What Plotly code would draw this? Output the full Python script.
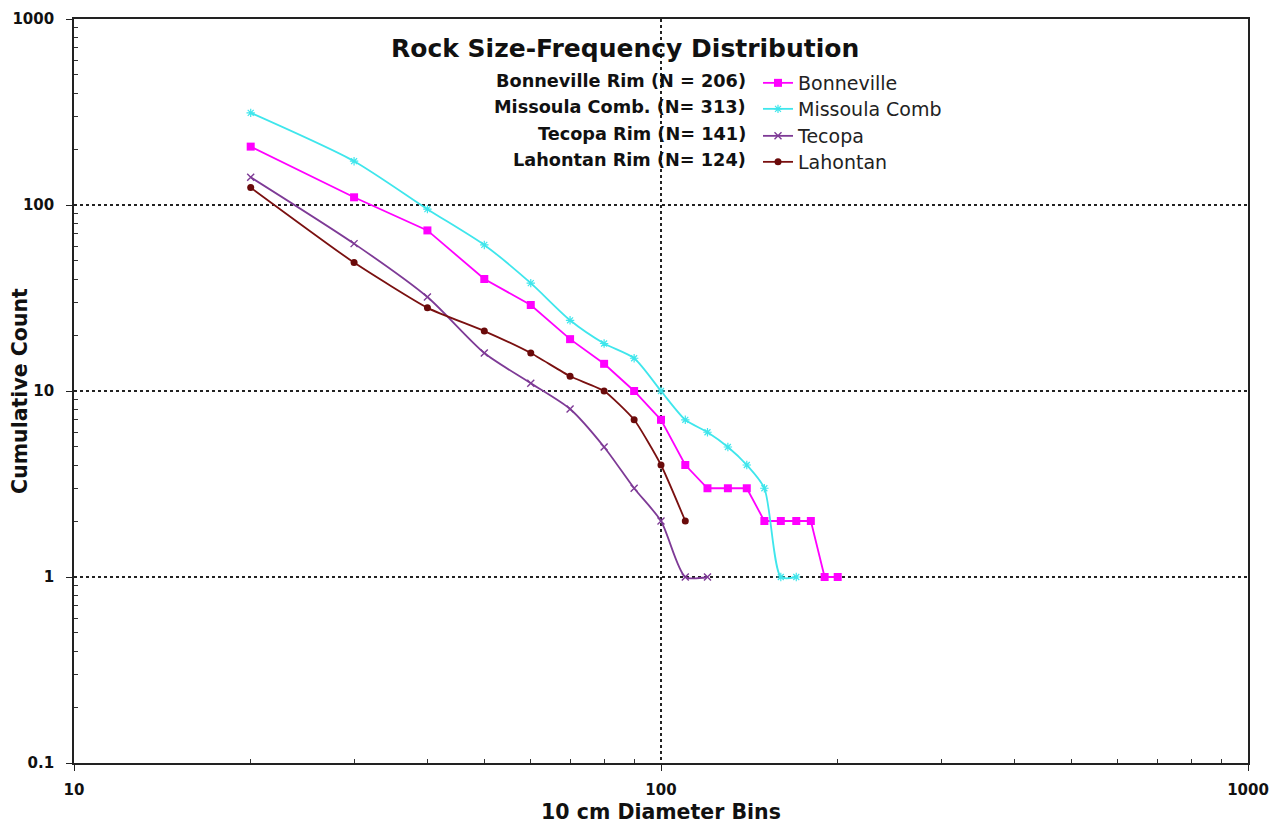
import plotly.graph_objects as go

bins = [20, 30, 40, 50, 60, 70, 80, 90, 100, 110, 120, 130, 140, 150, 160, 170, 180, 190, 200]
bonneville = [206, 110, 73, 40, 29, 19, 14, 10, 7, 4, 3, 3, 3, 2, 2, 2, 2, 1, 1]
missoula_x = [20, 30, 40, 50, 60, 70, 80, 90, 100, 110, 120, 130, 140, 150, 160, 170]
missoula = [313, 172, 95, 61, 38, 24, 18, 15, 10, 7, 6, 5, 4, 3, 1, 1]
tecopa_x = [20, 30, 40, 50, 60, 70, 80, 90, 100, 110, 120]
tecopa = [141, 62, 32, 16, 11, 8, 5, 3, 2, 1, 1]
lahontan_x = [20, 30, 40, 50, 60, 70, 80, 90, 100, 110]
lahontan = [124, 49, 28, 21, 16, 12, 10, 7, 4, 2]

n_labels = ["Bonneville Rim (N = 206)", "Missoula Comb. (N= 313)",
            "Tecopa Rim (N= 141)", "Lahontan Rim (N= 124)"]
title_text = "Rock Size-Frequency Distribution"
x_ticks = [10, 100, 1000]
y_ticks = [0.1, 1, 10, 100, 1000]

FONT = "DejaVu Sans, Liberation Sans, Arial, sans-serif"

# page body has an 8px margin; plot area wanted in window pixels
OFF = 8
W, H = 1277 - 2 * OFF, 832 - 2 * OFF
L, R, T, B = 74, 1248, 19, 763
def px(xp):
    return (xp - L) / (R - L)
def py(yp):
    return (B - yp) / (B - T)

row_y = [83, 109, 136, 162]

fig = go.Figure()
fig.add_trace(go.Scatter(x=bins, y=bonneville, name="Bonneville", mode="lines+markers",
                         legend="legend",
                         line=dict(color="#FF00FF", width=1.8),
                         marker=dict(symbol="square", size=8, color="#FF00FF")))
fig.add_trace(go.Scatter(x=missoula_x, y=missoula, name="Missoula Comb", mode="lines+markers",
                         legend="legend2",
                         line=dict(color="#3FE6EC", width=1.8, shape="spline", smoothing=0.7),
                         marker=dict(symbol="asterisk-open", size=7,
                                     line=dict(color="#3FE6EC", width=1.2))))
fig.add_trace(go.Scatter(x=tecopa_x, y=tecopa, name="Tecopa", mode="lines+markers",
                         legend="legend3",
                         line=dict(color="#7E3A96", width=1.8, shape="spline", smoothing=0.7),
                         marker=dict(symbol="x-thin-open", size=7,
                                     line=dict(color="#5A2A80", width=1.4))))
fig.add_trace(go.Scatter(x=lahontan_x, y=lahontan, name="Lahontan", mode="lines+markers",
                         legend="legend4",
                         line=dict(color="#7A1010", width=1.8, shape="spline", smoothing=0.5),
                         marker=dict(symbol="circle", size=7, color="#6A0A0A")))

axis_common = dict(
    type="log", showline=True, linecolor="#222", linewidth=1.6, mirror=True,
    ticks="outside", ticklen=6, tickwidth=1.3, tickcolor="#222",
    tickfont=dict(family=FONT, size=15, color="#111", weight="bold"),
    ticklabeloverflow="allow",
    showgrid=True, gridcolor="#222", gridwidth=1.6, griddash="3px,3px",
    zeroline=False, automargin=False,
)

x_minor = [20, 30, 40, 50, 60, 70, 80, 90, 200, 300, 400, 500, 600, 700, 800, 900]
y_minor = [m * d for d in (0.1, 1, 10, 100) for m in range(2, 10)]

fig.update_xaxes(**axis_common, range=[1, 3], tickmode="array", tickvals=x_ticks,
                 ticktext=[str(v) for v in x_ticks], ticklabelstandoff=6,
                 minor=dict(ticks="inside", ticklen=4, tickwidth=1.2, tickcolor="#333",
                            showgrid=False, tickmode="array", tickvals=x_minor),
                 title=dict(text="10 cm Diameter Bins", standoff=15,
                            font=dict(family=FONT, size=20.5, color="#111", weight="bold")))
fig.update_yaxes(**axis_common, range=[-1, 3], tickmode="array", tickvals=y_ticks,
                 ticktext=[str(v) for v in y_ticks], ticklabelstandoff=9,
                 minor=dict(ticks="inside", ticklen=4, tickwidth=1.2, tickcolor="#333",
                            showgrid=False, tickmode="array", tickvals=y_minor),
                 title=dict(text="Cumulative Count", standoff=2,
                            font=dict(family=FONT, size=20.5, color="#111", weight="bold")))

fig.add_annotation(x=px(625), y=py(49), xref="paper", yref="paper", text=title_text,
                   showarrow=False, xanchor="center", yanchor="middle",
                   font=dict(family=FONT, size=25, color="#111", weight="bold"))
for t, yy in zip(n_labels, row_y):
    fig.add_annotation(x=px(748), y=py(yy - 2), xref="paper", yref="paper", text=t,
                       showarrow=False, xanchor="right", yanchor="middle",
                       font=dict(family=FONT, size=17.7, color="#111", weight="bold"))

leg_common = dict(x=px(758), xanchor="left", yanchor="middle",
                  bgcolor="rgba(0,0,0,0)", itemwidth=30,
                  font=dict(family=FONT, size=19, color="#222"))

fig.update_layout(
    width=W, height=H,
    margin=dict(l=L - OFF, r=W - (R - OFF), t=T - OFF, b=H - (B - OFF)),
    paper_bgcolor="white", plot_bgcolor="white",
    showlegend=True,
    legend=dict(**leg_common, y=py(row_y[0])),
    legend2=dict(**leg_common, y=py(row_y[1])),
    legend3=dict(**leg_common, y=py(row_y[2])),
    legend4=dict(**leg_common, y=py(row_y[3])),
)

fig.write_html("out.html")
